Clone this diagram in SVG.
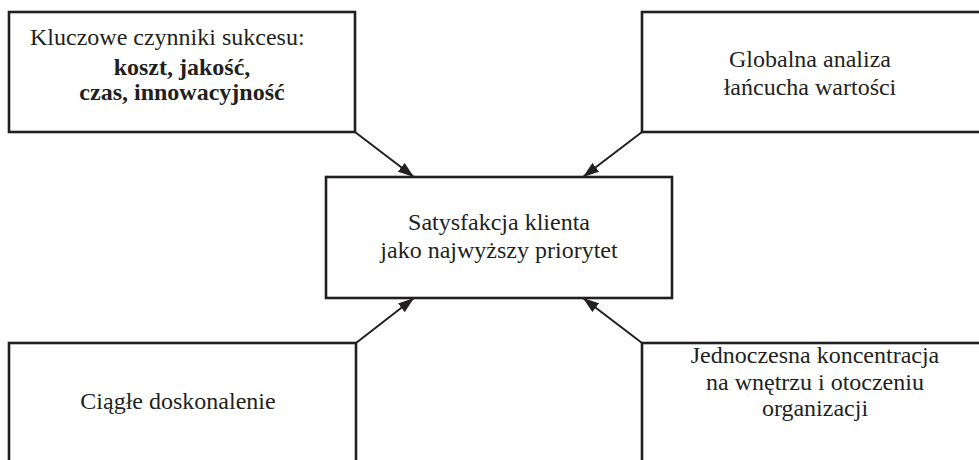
<svg xmlns="http://www.w3.org/2000/svg" width="979" height="460" viewBox="0 0 979 460">
<defs>
<style>
.box{fill:#fff;stroke:#231f20;stroke-width:2.6}
.t{font-family:"Liberation Serif","Times New Roman",serif;font-size:24px;fill:#231f20;text-anchor:middle}
.b{font-weight:bold}
.c{stroke:#231f20;stroke-width:2;fill:none;marker-end:url(#ah)}
</style>
<marker id="ah" viewBox="0 0 16 11" refX="16" refY="5.5" markerWidth="16" markerHeight="11" markerUnits="userSpaceOnUse" orient="auto">
<path d="M0,0 L16,5.5 L0,11 Z" fill="#231f20"/>
</marker>
</defs>
<rect width="979" height="460" fill="#fff"/>
<g id="connectors">
<line class="c" x1="355" y1="132" x2="414" y2="177"/>
<line class="c" x1="642" y1="132" x2="583" y2="177"/>
<line class="c" x1="356" y1="343" x2="414" y2="298"/>
<line class="c" x1="642" y1="343" x2="583" y2="298"/>
</g>
<g id="node-factors">
<rect class="box" x="9" y="12" width="346" height="120"/>
<text class="t" x="30" y="45" style="text-anchor:start">Kluczowe czynniki sukcesu:</text>
<text class="t b" x="182" y="75">koszt, jakość,</text>
<text class="t b" x="182" y="100">czas, innowacyjność</text>
</g>
<g id="node-global">
<rect class="box" x="642" y="12" width="360" height="120"/>
<text class="t" x="810" y="67">Globalna analiza</text>
<text class="t" x="810" y="95">łańcucha wartości</text>
</g>
<g id="node-center">
<rect class="box" x="326" y="177" width="346" height="121"/>
<text class="t" x="499" y="230">Satysfakcja klienta</text>
<text class="t" x="499" y="258">jako najwyższy priorytet</text>
</g>
<g id="node-improve">
<rect class="box" x="9" y="343" width="347" height="130"/>
<text class="t" x="178" y="409">Ciągłe doskonalenie</text>
</g>
<g id="node-focus">
<rect class="box" x="642" y="343" width="360" height="130"/>
<text class="t" x="815" y="363">Jednoczesna koncentracja</text>
<text class="t" x="815" y="390">na wnętrzu i otoczeniu</text>
<text class="t" x="815" y="416">organizacji</text>
</g>
</svg>
